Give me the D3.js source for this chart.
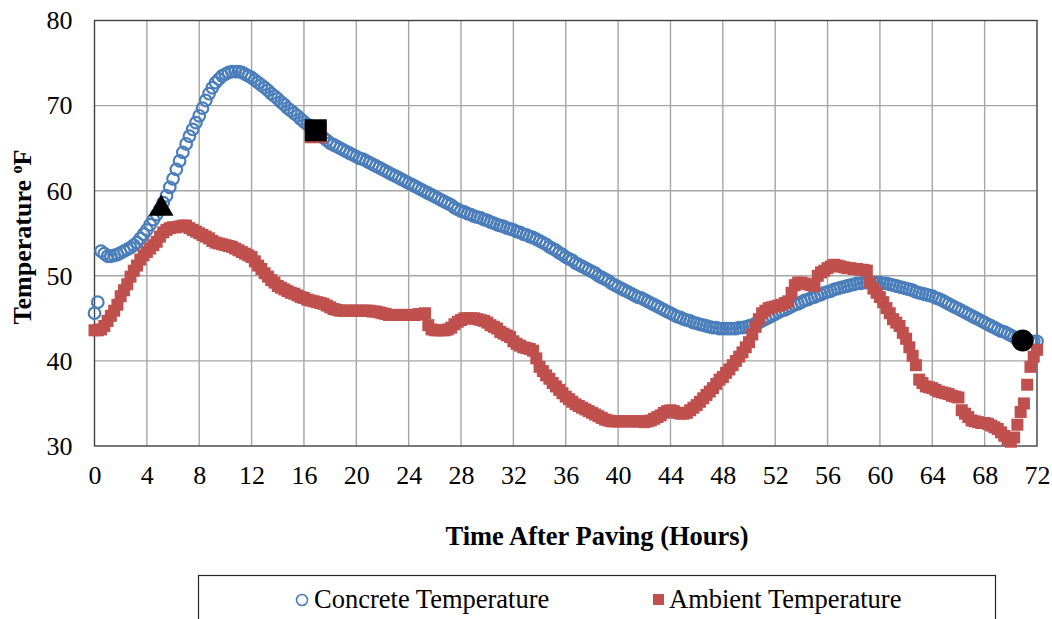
<!DOCTYPE html>
<html>
<head>
<meta charset="utf-8">
<script src="https://cdn.jsdelivr.net/npm/d3@7/dist/d3.min.js"></script>
<style>
  body { margin: 0; background: #fff; }
  text { font-family: "Liberation Serif", "Times New Roman", serif; fill: #000; }
</style>
</head>
<body>
<div id="chart"></div>
<script>
// readings every 15 minutes, hour 0 to 72
const readingStep = 0.25;

// concrete temperature (F), one row per hour
const concreteTemp = [
  45.6, 46.9, 52.9, 52.6,  52.3, 52.3, 52.4, 52.5,  52.7, 52.9, 53.1, 53.3,
  53.6, 53.9, 54.4, 54.9,  55.4, 56.0, 56.6, 57.2,  57.8, 58.6, 59.4, 60.4,
  61.4, 62.5, 63.5, 64.5,  65.5, 66.4, 67.2, 68.0,  68.8, 69.7, 70.6, 71.4,
  72.1, 72.7, 73.1, 73.5,  73.7, 73.9, 74.0, 74.0,  74.0, 73.9, 73.7, 73.5,
  73.3, 73.0, 72.7, 72.4,  72.1, 71.8, 71.4, 71.1,  70.8, 70.4, 70.1, 69.7,
  69.4, 69.1, 68.8, 68.4,  68.1, 67.8, 67.6, 67.3,  67.0, 66.6, 66.2, 65.9,
  65.6, 65.4, 65.2, 65.0,  64.8, 64.6, 64.4, 64.2,  64.0, 63.8, 63.7, 63.5,
  63.3, 63.1, 62.9, 62.7,  62.5, 62.3, 62.1, 61.9,  61.7, 61.5, 61.3, 61.1,
  60.9, 60.7, 60.5, 60.3,  60.1, 59.9, 59.7, 59.5,  59.3, 59.1, 58.9, 58.7,
  58.5, 58.3, 58.0, 57.8,  57.6, 57.5, 57.3, 57.2,  57.0, 56.9, 56.8, 56.6,
  56.5, 56.3, 56.2, 56.0,  55.9, 55.8, 55.6, 55.5,  55.4, 55.2, 55.1, 54.9,
  54.8, 54.6, 54.5, 54.3,  54.1, 53.9, 53.7, 53.4,  53.2, 53.0, 52.7, 52.5,
  52.2, 52.0, 51.8, 51.5,  51.3, 51.1, 50.9, 50.7,  50.5, 50.3, 50.0, 49.8,
  49.6, 49.4, 49.1, 48.9,  48.7, 48.5, 48.3, 48.1,  47.9, 47.7, 47.5, 47.4,
  47.2, 47.0, 46.8, 46.6,  46.4, 46.2, 46.0, 45.8,  45.6, 45.4, 45.2, 45.1,
  44.9, 44.8, 44.7, 44.5,  44.4, 44.3, 44.2, 44.1,  44.0, 43.9, 43.9, 43.8,
  43.8, 43.8, 43.8, 43.8,  43.8, 43.9, 43.9, 44.0,  44.1, 44.2, 44.4, 44.5,
  44.7, 44.9, 45.1, 45.3,  45.5, 45.7, 45.9, 46.0,  46.2, 46.4, 46.6, 46.7,
  46.9, 47.1, 47.2, 47.4,  47.5, 47.7, 47.8, 48.0,  48.1, 48.2, 48.4, 48.5,
  48.6, 48.7, 48.8, 48.9,  49.0, 49.1, 49.1, 49.2,  49.2, 49.2, 49.2, 49.2,
  49.2, 49.1, 49.1, 49.0,  48.9, 48.8, 48.7, 48.6,  48.5, 48.4, 48.3, 48.1,
  48.0, 47.9, 47.8, 47.7,  47.6, 47.4, 47.3, 47.1,  46.9, 46.7, 46.5, 46.3,
  46.1, 45.9, 45.7, 45.5,  45.3, 45.1, 44.9, 44.7,  44.5, 44.3, 44.1, 43.9,
  43.7, 43.5, 43.4, 43.2,  43.0, 42.8, 42.7, 42.5,  42.4, 42.4, 42.3, 42.3,
  42.3
];

// ambient temperature (F), one row per hour
const ambientTemp = [
  43.6, 43.6, 43.7, 44.1,  44.7, 45.3, 45.9, 46.6,  47.6, 48.3, 49.0, 49.9,
  50.6, 51.2, 51.9, 52.4,  52.8, 53.2, 53.6, 54.0,  54.6, 55.1, 55.4, 55.6,
  55.7, 55.7, 55.8, 55.9,  55.9, 55.6, 55.4, 55.2,  55.0, 54.8, 54.6, 54.4,
  54.1, 53.9, 53.8, 53.7,  53.6, 53.5, 53.4, 53.2,  53.0, 52.8, 52.6, 52.4,
  52.2, 51.7, 51.2, 50.8,  50.3, 49.9, 49.5, 49.2,  48.8, 48.6, 48.4, 48.2,
  48.0, 47.9, 47.7, 47.5,  47.4, 47.2, 47.1, 47.0,  46.9, 46.8, 46.7, 46.5,
  46.3, 46.1, 46.0, 45.9,  45.9, 45.9, 45.9, 45.9,  45.9, 45.9, 45.9, 45.9,
  45.9, 45.8, 45.8, 45.7,  45.6, 45.5, 45.4, 45.4,  45.4, 45.4, 45.4, 45.4,
  45.4, 45.4, 45.4, 45.5,  45.5, 45.6, 44.2, 43.7,  43.6, 43.6, 43.6, 43.6,
  43.7, 43.9, 44.3, 44.6,  44.8, 45.0, 45.0, 45.0,  45.0, 44.9, 44.8, 44.7,
  44.5, 44.2, 44.0, 43.8,  43.4, 43.2, 43.0, 42.8,  42.3, 42.0, 41.8, 41.6,
  41.5, 41.4, 41.2, 40.3,  39.3, 38.8, 38.3, 37.9,  37.4, 37.0, 36.6, 36.2,
  35.8, 35.5, 35.2, 34.9,  34.7, 34.5, 34.3, 34.1,  33.9, 33.7, 33.5, 33.3,
  33.1, 33.0, 32.9, 32.9,  32.9, 32.9, 32.9, 32.9,  32.9, 32.9, 32.9, 32.9,
  32.8, 32.9, 33.0, 33.2,  33.4, 33.6, 33.9, 34.1,  34.2, 34.1, 33.9, 33.8,
  33.8, 33.9, 34.2, 34.5,  34.8, 35.2, 35.6, 36.0,  36.4, 36.8, 37.3, 37.8,
  38.1, 38.6, 39.0, 39.5,  40.0, 40.5, 41.0, 41.6,  42.2, 43.1, 44.0, 44.9,
  45.6, 45.9, 46.2, 46.3,  46.4, 46.5, 46.6, 46.8,  47.0, 48.0, 48.9, 49.2,
  49.2, 49.1, 49.0, 48.9,  48.8, 50.0, 50.4, 50.6,  50.9, 51.1, 51.3, 51.2,
  51.1, 51.0, 50.9, 50.9,  50.8, 50.8, 50.7, 50.7,  50.6, 49.2, 48.5, 48.0,
  47.5, 46.9, 46.2, 45.6,  44.9, 44.5, 44.1, 43.3,  42.6, 41.6, 40.6, 39.5,
  37.8, 37.4, 37.0, 36.9,  36.8, 36.6, 36.4, 36.3,  36.2, 36.1, 35.9, 35.8,
  35.7, 34.2, 33.8, 33.4,  33.0, 32.9, 32.8, 32.7,  32.7, 32.6, 32.4, 32.2,
  32.0, 31.6, 31.2, 30.8,  30.5, 31.0, 32.5, 34.0,  35.0, 37.2, 39.3, 40.5,
  41.3
];

// black event markers (hour, temp)
const markerShapes = ['triangle', 'square', 'circle'];
const markerHours = [5.1, 16.9, 70.9];
const markerTemps = [58.0, 67.1, 42.4];

const xTicks = d3.range(0, 73, 4);
const yTicks = [30, 40, 50, 60, 70, 80];
const seriesNames = ['Concrete Temperature', 'Ambient Temperature'];

const width = 1052, height = 619;
const blue = '#4a7ebb', red = '#c0504d';

let svg = d3.select('#chart').append('svg')
    .attr('width', width)
    .attr('height', height);

let x = d3.scaleLinear().domain([0, 72]).range([94.5, 1037]);
let y = d3.scaleLinear().domain([30, 80]).range([446, 20.5]);

// gridlines
svg.append('g')
    .selectAll('line')
    .data(xTicks.slice(1, -1))
    .join('line')
    .attr('x1', d => x(d)).attr('x2', d => x(d))
    .attr('y1', y(30)).attr('y2', y(80))
    .attr('stroke', '#a6a6a6').attr('stroke-width', 1.4);

svg.append('g')
    .selectAll('line')
    .data(yTicks.slice(1, -1))
    .join('line')
    .attr('x1', x(0)).attr('x2', x(72))
    .attr('y1', d => y(d)).attr('y2', d => y(d))
    .attr('stroke', '#a6a6a6').attr('stroke-width', 1.4);

// axes, drawn without tick marks
let xAxis = d3.axisBottom(x).tickValues(xTicks).tickSize(0).tickPadding(20);
let yAxis = d3.axisLeft(y).tickValues(yTicks).tickSize(0).tickPadding(22);

svg.append('g')
    .attr('transform', 'translate(0,' + y(30) + ')')
    .call(xAxis)
    .call(g => g.select('.domain').remove())
    .selectAll('text')
    .attr('font-family', '"Liberation Serif", serif')
    .attr('font-size', 26)
    .attr('fill', '#000');

svg.append('g')
    .attr('transform', 'translate(' + x(0) + ',0)')
    .call(yAxis)
    .call(g => g.select('.domain').remove())
    .selectAll('text')
    .attr('font-family', '"Liberation Serif", serif')
    .attr('font-size', 26)
    .attr('fill', '#000');

// plot frame
svg.append('rect')
    .attr('x', x(0)).attr('y', y(80))
    .attr('width', x(72) - x(0)).attr('height', y(30) - y(80))
    .attr('fill', 'none')
    .attr('stroke', '#404040').attr('stroke-width', 1.4);

// concrete: hollow circles
svg.append('g')
    .selectAll('circle')
    .data(concreteTemp)
    .join('circle')
    .attr('cx', (d, i) => x(i * readingStep))
    .attr('cy', d => y(d))
    .attr('r', 5.8)
    .attr('fill', 'none')
    .attr('stroke', blue)
    .attr('stroke-width', 2.2);

// ambient: filled squares
const sq = 12;
svg.append('g')
    .selectAll('rect')
    .data(ambientTemp)
    .join('rect')
    .attr('x', (d, i) => x(i * readingStep) - sq / 2)
    .attr('y', d => y(d) - sq / 2)
    .attr('width', sq).attr('height', sq)
    .attr('fill', red);

// event markers
let markers = svg.append('g');
markerShapes.forEach((shape, i) => {
    let cx = x(markerHours[i]), cy = y(markerTemps[i]);
    if (shape === 'triangle') {
        markers.append('path')
            .attr('d', d3.symbol(d3.symbolTriangle, 260)())
            .attr('transform', 'translate(' + cx + ',' + (cy + 1) + ')')
            .attr('fill', '#000');
    } else if (shape === 'square') {
        markers.append('rect')
            .attr('x', cx - 11).attr('y', cy - 9)
            .attr('width', 22).attr('height', 22)
            .attr('fill', red);
        markers.append('rect')
            .attr('x', cx - 11).attr('y', cy - 11)
            .attr('width', 22).attr('height', 22)
            .attr('fill', '#000');
    } else {
        markers.append('circle')
            .attr('cx', cx).attr('cy', cy)
            .attr('r', 11)
            .attr('fill', '#000');
    }
});

// axis titles
svg.append('text')
    .attr('x', 597).attr('y', 545)
    .attr('text-anchor', 'middle')
    .attr('font-size', 26.5)
    .attr('font-weight', 'bold')
    .text('Time After Paving (Hours)');

let yTitle = svg.append('text')
    .attr('transform', 'translate(31,237) rotate(-90)')
    .attr('text-anchor', 'middle')
    .attr('font-size', 26)
    .attr('font-weight', 'bold');
yTitle.append('tspan').text('Temperature ');
yTitle.append('tspan').attr('font-size', 16).attr('dy', -9).text('o');
yTitle.append('tspan').attr('dy', 9).text('F');

// legend
let legend = svg.append('g');
legend.append('rect')
    .attr('x', 198.5).attr('y', 575.5)
    .attr('width', 797).attr('height', 60)
    .attr('fill', '#fff')
    .attr('stroke', '#262626').attr('stroke-width', 1.2);

legend.append('circle')
    .attr('cx', 302).attr('cy', 600)
    .attr('r', 5.5)
    .attr('fill', 'none')
    .attr('stroke', blue).attr('stroke-width', 1.6);
legend.append('text')
    .attr('x', 314).attr('y', 608)
    .attr('font-size', 26.5)
    .text(seriesNames[0]);

legend.append('rect')
    .attr('x', 653).attr('y', 594)
    .attr('width', 11).attr('height', 11)
    .attr('fill', red);
legend.append('text')
    .attr('x', 669).attr('y', 608)
    .attr('font-size', 26.5)
    .text(seriesNames[1]);
</script>
</body>
</html>
